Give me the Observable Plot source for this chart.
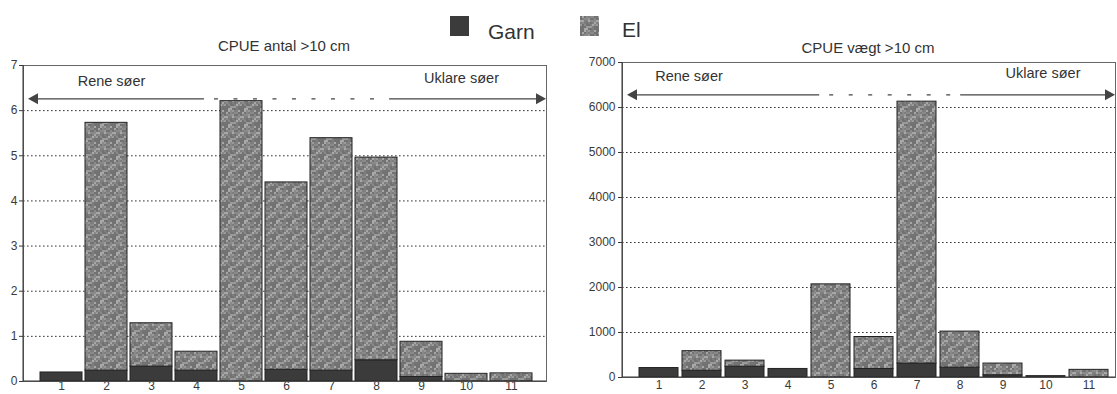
<!DOCTYPE html>
<html>
<head>
<meta charset="utf-8">
<script src="https://cdn.jsdelivr.net/npm/d3@7"></script>
<script src="https://cdn.jsdelivr.net/npm/@observablehq/plot@0.6"></script>
<style>
  body { margin: 0; background: #fff; font-family: "Liberation Sans", Arial, sans-serif; }
  #wrap { position: relative; width: 1117px; height: 394px; overflow: hidden; background: #fff; }
  .abs { position: absolute; }
  .title { font-size: 15px; line-height: 15px; color: #333; transform: translateX(-50%); white-space: nowrap; }
  .legtext { font-size: 21px; line-height: 21px; color: #333; white-space: nowrap; }
  svg.plot { overflow: visible; }
</style>
</head>
<body>
<svg width="0" height="0" style="position:absolute">
  <defs id="defs"></defs>
</svg>
<div id="wrap"></div>
<script>
// ---------- data ----------
const lakes = [1, 2, 3, 4, 5, 6, 7, 8, 9, 10, 11];
const seriesNames = ["Garn", "El"];
const antalGarn = [0.2, 0.24, 0.33, 0.24, 0, 0.26, 0.24, 0.47, 0.1, 0, 0];
const antalEl   = [0, 5.49, 0.96, 0.42, 6.21, 4.15, 5.15, 4.49, 0.78, 0.17, 0.18];
const vaegtGarn = [210, 150, 240, 190, 0, 190, 310, 220, 50, 30, 0];
const vaegtEl   = [0, 435, 135, 0, 2070, 710, 5820, 800, 260, 0, 170];
const antalTicks = [0, 1, 2, 3, 4, 5, 6, 7];
const vaegtTicks = [0, 1000, 2000, 3000, 4000, 5000, 6000, 7000];
const titles = ["CPUE antal >10 cm", "CPUE vægt >10 cm"];
const annotLeft = "Rene søer";
const annotRight = "Uklare søer";

// ---------- mottled texture for "El" ----------
const defs = d3.select("#defs");
const T = 16, C = 2;
const pat = defs.append("pattern").attr("id", "elTex").attr("patternUnits", "userSpaceOnUse")
  .attr("width", T).attr("height", T);
pat.append("rect").attr("width", T).attr("height", T).attr("fill", "#8a8a8a");
for (let i = 0; i < T / C; i++) for (let j = 0; j < T / C; j++) {
  const h = Math.abs(Math.sin(i * 12.9898 + j * 78.233) * 43758.5453) % 1;
  let c = null;
  if (h < 0.25) c = "#727272";
  else if (h < 0.4) c = "#7e7e7e";
  else if (h > 0.85) c = "#a8a8a8";
  else if (h > 0.7) c = "#9a9a9a";
  if (c) pat.append("rect").attr("x", i * C).attr("y", j * C).attr("width", C).attr("height", C).attr("fill", c);
}

const GARN = "#3b3b3b";
const wrap = d3.select("#wrap");

function panel(cfg) {
  const rows = lakes.map((l, i) => ({lake: l, garn: cfg.garn[i], el: cfg.el[i]}));
  const plot = Plot.plot({
    width: cfg.width, height: 394,
    marginTop: cfg.mt, marginBottom: cfg.mb, marginLeft: cfg.ml, marginRight: cfg.mr,
    style: {background: "transparent", fontFamily: "'Liberation Sans', Arial, sans-serif", fontSize: "12px", color: "#3a3a3a", overflow: "visible"},
    x: {domain: lakes, range: cfg.xrange, paddingInner: cfg.pad, paddingOuter: 0, tickSize: 0, tickPadding: cfg.xtp, label: null},
    y: {domain: [cfg.ticks[0], cfg.ticks[cfg.ticks.length - 1]], ticks: cfg.ticks, tickFormat: d => String(d),
        tickSize: 4, tickPadding: cfg.tp, label: null},
    marks: [
      Plot.ruleY(cfg.ticks.slice(1, -1), {stroke: "#333", strokeWidth: 1, strokeDasharray: "1.6,2.4"}),
      Plot.barY(rows.filter(d => d.garn > 0), {x: "lake", y1: 0, y2: "garn", fill: GARN, stroke: "#222", strokeWidth: 1}),
      Plot.barY(rows.filter(d => d.el > 0), {x: "lake", y1: "garn", y2: d => d.garn + d.el, fill: "url(#elTex)", stroke: "#222", strokeWidth: 1}),
      Plot.frame({stroke: "#666", strokeWidth: 1}),
      Plot.text([annotLeft], {x: () => 2, y: cfg.textY1, dx: cfg.dx1, text: d => d, fontSize: 14.5, fill: "#333"}),
      Plot.text([annotRight], {x: () => 10, y: cfg.textY2, dx: cfg.dx2, text: d => d, fontSize: 14.5, fill: "#333"})
    ]
  });
  const svg = d3.select(plot);
  const ys = plot.scale("y");
  const yS = d3.scaleLinear(ys.domain, ys.range);
  const x0 = cfg.ml, x1 = cfg.width - cfg.mr;
  const g = svg.append("g");
  // darker axis lines on left/bottom
  g.append("line").attr("x1", x0).attr("x2", x0).attr("y1", cfg.mt).attr("y2", 394 - cfg.mb).attr("stroke", "#333");
  g.append("line").attr("x1", x0).attr("x2", x1).attr("y1", 394 - cfg.mb).attr("y2", 394 - cfg.mb).attr("stroke", "#333");
  // arrow annotation
  const ya = yS(cfg.arrowY);
  const tipL = x0 + 5, tipR = x1;
  const s1 = x0 + cfg.f1 * (x1 - x0), s2 = x0 + cfg.f2 * (x1 - x0);
  const ac = "#444";
  g.append("line").attr("x1", tipL + 8).attr("x2", s1).attr("y1", ya).attr("y2", ya).attr("stroke", ac).attr("stroke-width", 1.3);
  g.append("line").attr("x1", s1 + 10).attr("x2", s2 - 6).attr("y1", ya).attr("y2", ya).attr("stroke", ac).attr("stroke-width", 1.3).attr("stroke-dasharray", "4,15.5");
  g.append("line").attr("x1", s2).attr("x2", tipR - 8).attr("y1", ya).attr("y2", ya).attr("stroke", ac).attr("stroke-width", 1.3);
  g.append("path").attr("d", `M${tipL},${ya}L${tipL + 10},${ya - 5.5}L${tipL + 10},${ya + 5.5}Z`).attr("fill", ac);
  g.append("path").attr("d", `M${tipR},${ya}L${tipR - 10},${ya - 5.5}L${tipR - 10},${ya + 5.5}Z`).attr("fill", ac);
  const holder = wrap.append("div").attr("class", "abs").style("left", cfg.left + "px").style("top", "0px");
  holder.node().appendChild(plot);
}

panel({left: 0, width: 560, mt: 65, mb: 13, ml: 23, mr: 14, xrange: [38, 534], pad: 0.075, tp: 2, xtp: 0,
  garn: antalGarn, el: antalEl, ticks: antalTicks, arrowY: 6.25, f1: 0.346, f2: 0.70,
  textY1: 6.65, dx1: 5, textY2: 6.71, dx2: -5});
panel({left: 560, width: 557, mt: 62, mb: 17, ml: 62, mr: 2, xrange: [77, 550], pad: 0.1, tp: 3, xtp: 3,
  garn: vaegtGarn, el: vaegtEl, ticks: vaegtTicks, arrowY: 6270, f1: 0.40, f2: 0.686,
  textY1: 6690, dx1: -13, textY2: 6760, dx2: -3});

// titles
wrap.append("div").attr("class", "abs title").style("left", "284px").style("top", "38px").text(titles[0]);
wrap.append("div").attr("class", "abs title").style("left", "868px").style("top", "40px").text(titles[1]);

// legend
wrap.append("div").attr("class", "abs").style("left", "450px").style("top", "16px")
  .style("width", "19px").style("height", "20px").style("background", GARN);
wrap.append("div").attr("class", "abs legtext").style("left", "488px").style("top", "21px").text(seriesNames[0]);
const sw = wrap.append("svg").attr("class", "abs").style("left", "580px").style("top", "16px").attr("width", 19).attr("height", 20);
sw.append("rect").attr("width", 19).attr("height", 20).attr("fill", "url(#elTex)");
wrap.append("div").attr("class", "abs legtext").style("left", "622px").style("top", "19px").text(seriesNames[1]);
</script>
</body>
</html>
